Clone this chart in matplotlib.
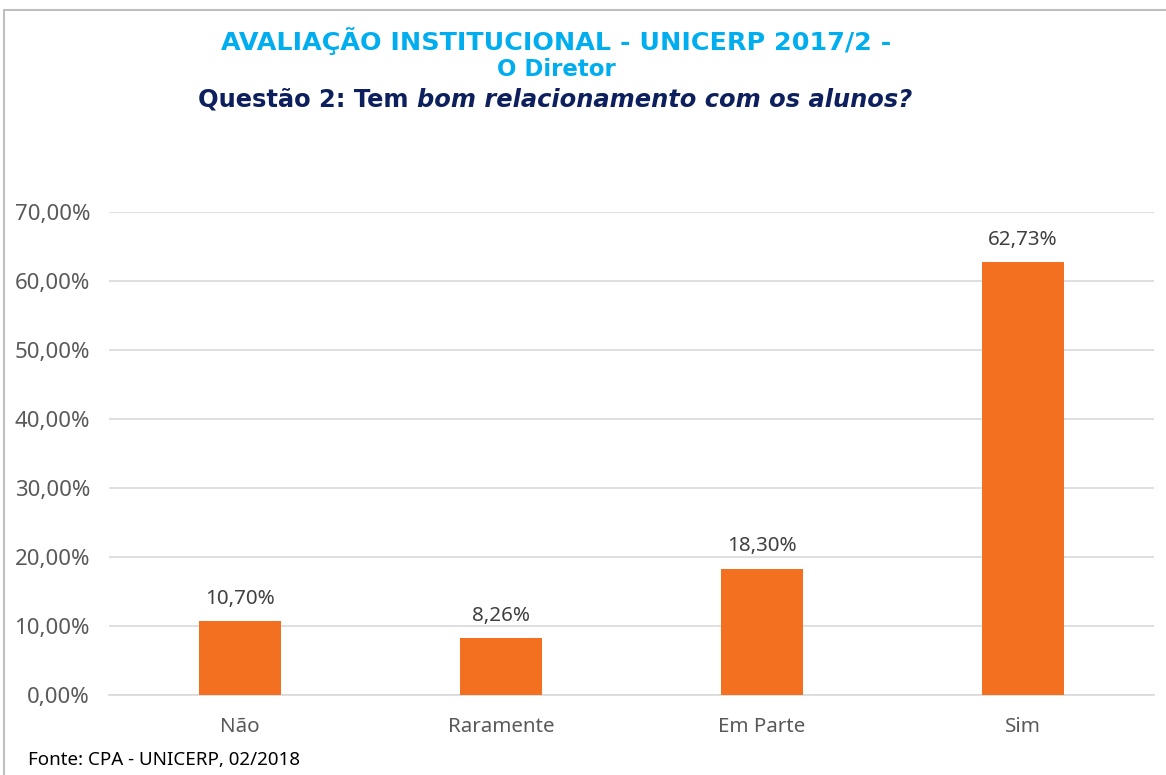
import matplotlib
matplotlib.use("Agg")
import matplotlib.pyplot as plt
from matplotlib.patches import Rectangle
from matplotlib.ticker import FuncFormatter

categories = ["Não", "Raramente", "Em Parte", "Sim"]
values = [10.70, 8.26, 18.30, 62.73]
yticks = [0, 10, 20, 30, 40, 50, 60, 70]

bar_color = "#F37021"
title_color = "#00AEEF"
question_color = "#0D1F5C"
text_gray = "#595959"
body_font = "Noto Sans"


def pct(v, pos=None):
    return f"{v:.2f}".replace(".", ",") + "%"


fig = plt.figure(figsize=(11.66, 7.75), dpi=100)
ax = fig.add_axes([0.0939, 0.1032, 0.8954, 0.6233])

x = range(len(categories))
ax.bar(x, values, width=0.315, color=bar_color, zorder=3)
for xi, v in zip(x, values):
    ax.annotate(pct(v), (xi, v), xytext=(0, 9), textcoords="offset points",
                ha="center", va="bottom", fontsize=14.8, color="#404040",
                family=body_font, fontstretch="normal")

ax.set_xlim(-0.5, len(categories) - 0.5)
ax.set_ylim(0, 70)
ax.set_yticks(yticks)
ax.yaxis.set_major_formatter(FuncFormatter(pct))
ax.set_xticks(list(x))
ax.set_xticklabels(categories)
ax.grid(axis="y", color="#D9D9D9", linewidth=1.2, zorder=0)
for s in ["top", "right", "left"]:
    ax.spines[s].set_visible(False)
ax.spines["bottom"].set_color("#D9D9D9")
ax.spines["bottom"].set_linewidth(1.2)
ax.tick_params(axis="y", length=0, labelsize=16, labelcolor=text_gray, pad=14)
ax.tick_params(axis="x", length=0, labelsize=14.8, labelcolor=text_gray, pad=16)
for lab in ax.get_xticklabels() + ax.get_yticklabels():
    lab.set_family(body_font)
    lab.set_fontstretch("normal")

# titles
cx = 556 / 1166
fig.text(cx, 1 - 41 / 775, "AVALIAÇÃO INSTITUCIONAL - UNICERP 2017/2 -", ha="center", va="center",
         fontsize=18.3, fontweight="bold", color=title_color, family="DejaVu Sans")
fig.text(cx, 1 - 70 / 775, "O Diretor", ha="center", va="center",
         fontsize=16.5, fontweight="bold", color=title_color, family="DejaVu Sans")
q1 = fig.text(198 / 1166, 1 - 100 / 775, "Questão 2: Tem ", ha="left", va="center",
              fontsize=17.4, fontweight="bold", color=question_color, family="DejaVu Sans")
fig.canvas.draw()
bb = q1.get_window_extent()
fig.text(bb.x1 / 1166, 1 - 100 / 775, "bom relacionamento com os alunos?", ha="left", va="center",
         fontsize=17.4, fontweight="bold", fontstyle="italic", color=question_color,
         family="DejaVu Sans")

fig.text(28 / 1166, 1 - 760 / 775, "Fonte: CPA - UNICERP, 02/2018", ha="left", va="center",
         fontsize=13.5, color="black", family=body_font, fontstretch="normal")

fig.patches.append(Rectangle((4 / 1166, -0.05), 1.2, 1 - 10 / 775 + 0.05, transform=fig.transFigure,
                             fill=False, edgecolor="#BFBFBF", linewidth=1.5))

fig.savefig("out.png", dpi=100)
